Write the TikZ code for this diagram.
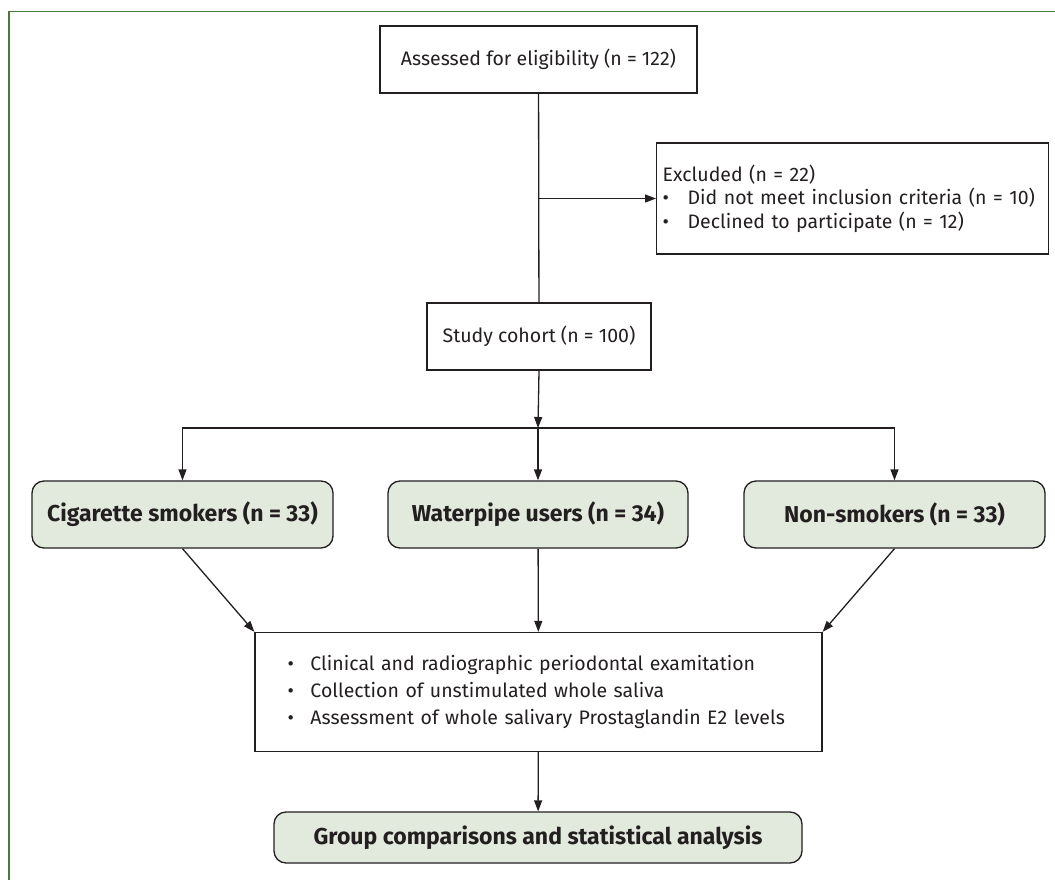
\documentclass[tikz,border=0pt]{standalone}
\usepackage{fontspec}
\setmainfont{Fira Sans}
\usetikzlibrary{arrows.meta}
\definecolor{framegreen}{RGB}{72,122,58}
\definecolor{boxfill}{RGB}{226,233,221}
\definecolor{ink}{RGB}{35,31,32}
\tikzset{
  box/.style={draw=ink, line width=1.3pt, text=ink, inner sep=0pt, minimum height=67pt,
    font=\fontsize{19.5}{23.5}\selectfont},
  groupbox/.style={box, fill=boxfill, rounded corners=12pt,
    font=\fontsize{23}{26}\selectfont\bfseries},
  arr/.style={draw=ink, line width=1.3pt, -{Triangle[length=11pt,width=8pt]}},
  link/.style={draw=ink, line width=1.3pt}
}
\newcommand{\bul}[1]{\makebox[#1][l]{\textbullet}}
\begin{document}
\begin{tikzpicture}[x=1pt,y=-1pt]
  \useasboundingbox (0,0) rectangle (1055,880);
  \draw[framegreen, line width=1.5pt] (1055,11.5) -- (9,11.5) -- (9,880);

  \node (assess) [box, minimum width=317pt] at (538.5,59.5) {Assessed for eligibility (n = 122)};
  \node (excl) [box, anchor=west, minimum height=111pt, text width=380pt, inner xsep=6pt, align=left]
    at (656,198.5) {Excluded (n = 22)\\ \bul{25pt}Did not meet inclusion criteria (n = 10)\\ \bul{25pt}Declined to participate (n = 12)};
  \node (cohort) [box, minimum width=224pt] at (539,336.5) {Study cohort (n = 100)};
  \coordinate (split) at (538,428);
  \node (cig) [groupbox, minimum width=301pt] at (182.5,514.5) {Cigarette smokers (n = 33)};
  \node (water) [groupbox, minimum width=300pt] at (538,514.5) {Waterpipe users (n = 34)};
  \node (nonsm) [groupbox, minimum width=301pt] at (894.5,514.5) {Non-smokers (n = 33)};
  \node (exam) [box, minimum height=119pt, text width=502pt, inner xsep=32.5pt, align=left] at (538.5,692)
    {\bul{23pt}Clinical and radiographic periodontal examitation\\[3.5pt] \bul{23pt}Collection of unstimulated whole saliva\\[3.5pt] \bul{23pt}Assessment of whole salivary Prostaglandin E2 levels};
  \node (final) [groupbox, minimum width=528pt, minimum height=51pt] at (538,837.5) {Group comparisons and statistical analysis};

  \draw[link] (assess) -- (cohort);
  \draw[arr] (cohort.north |- excl.west) -- (excl.west);
  \draw[arr] (cohort.south) -- (split);
  \draw[arr] (split) -| (cig);
  \draw[arr] (split) -- (water);
  \draw[arr] (split) -| (nonsm);
  \draw[arr] (cig.south) -- (exam.north west);
  \draw[arr] (water) -- (exam);
  \draw[arr] (nonsm.south) -- (exam.north east);
  \draw[arr] (exam) -- (final);
\end{tikzpicture}
\end{document}
